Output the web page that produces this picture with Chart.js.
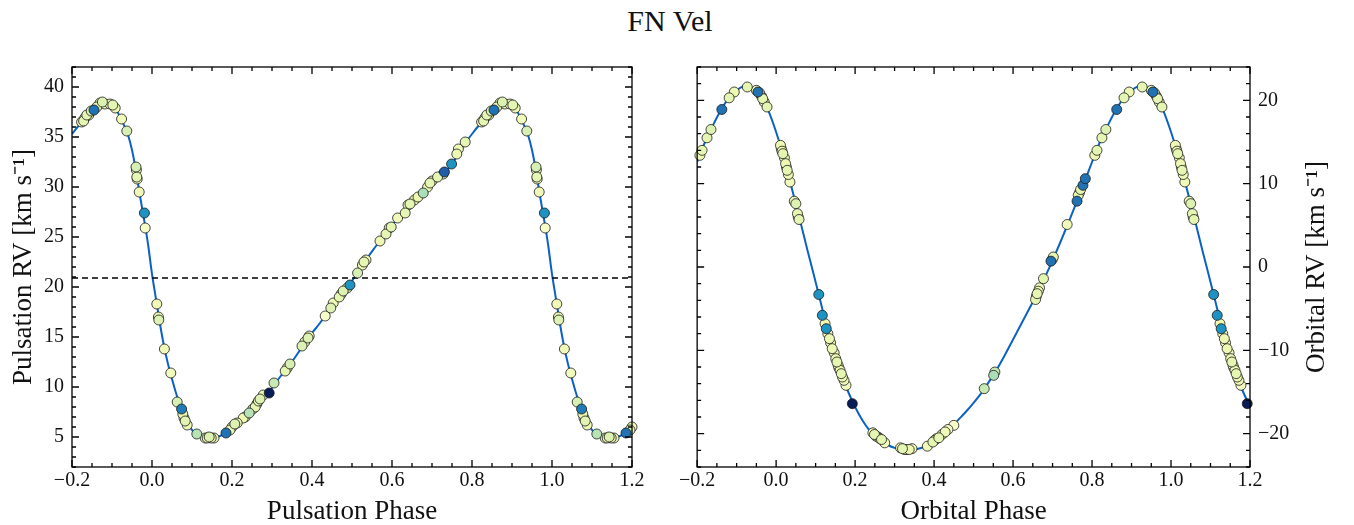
<!DOCTYPE html>
<html>
<head>
<meta charset="utf-8">
<script src="https://cdn.jsdelivr.net/npm/chart.js@4.4.1/dist/chart.umd.min.js"></script>
<style>
  body { margin: 0; background: #fff; }
  #wrap { position: relative; width: 1354px; height: 525px; }
  #title { position: absolute; top: 5px; left: 0; width: 1340px; text-align: center;
           font: 30px/32px "Liberation Serif", serif; color: #111; }
  .box { position: absolute; top: 0; width: 677px; height: 525px; }
</style>
</head>
<body>
<div id="wrap">
  <div id="title">FN Vel</div>
  <div class="box" style="left:0"><canvas id="pulsChart"></canvas></div>
  <div class="box" style="left:677px"><canvas id="orbChart"></canvas></div>
</div>
<script>
// axis ticks
const phaseTicks = [-0.2, 0.0, 0.2, 0.4, 0.6, 0.8, 1.0, 1.2];
const pulsRvTicks = [5, 10, 15, 20, 25, 30, 35, 40];
const orbRvTicks = [-20, -10, 0, 10, 20];
const systemicRv = 20.9;

// pulsation model curve (one cycle)
const pulsModelPhase = [0.00, 0.01, 0.02, 0.03, 0.04, 0.05, 0.06, 0.07, 0.08, 0.09, 0.10, 0.115, 0.13, 0.15, 0.17, 0.185,
  0.20, 0.22, 0.24, 0.26, 0.28, 0.30, 0.32, 0.34, 0.36, 0.38, 0.40, 0.42, 0.44, 0.46, 0.48, 0.50, 0.52, 0.54, 0.56, 0.58,
  0.60, 0.62, 0.64, 0.66, 0.68, 0.70, 0.72, 0.74, 0.76, 0.78, 0.80, 0.82, 0.84, 0.86, 0.88,
  0.90, 0.915, 0.925, 0.94, 0.95, 0.96, 0.97, 0.98, 0.99];
const pulsModelRv = [21.3, 18.8, 16.3, 14.1, 12.3, 10.8, 9.4, 8.2, 7.1, 6.3, 5.7, 5.2, 4.95, 4.9, 5.1, 5.4,
  5.9, 6.6, 7.3, 8.1, 8.9, 9.9, 11.0, 12.0, 13.1, 14.3, 15.4, 16.4, 17.5, 18.6, 19.6, 20.6, 21.8, 23.0, 24.1, 25.2,
  26.2, 27.1, 28.0, 28.8, 29.5, 30.2, 31.0, 31.8, 32.9, 34.2, 35.3, 36.3, 37.2, 37.9, 38.35,
  38.2, 37.4, 36.6, 35.2, 33.7, 31.6, 29.1, 26.8, 24.3];

// pulsation measurements
const pulsPhase = [0.012, 0.016, 0.017, 0.031, 0.047, 0.063, 0.074, 0.077, 0.080, 0.083, 0.088, 0.112, 0.133, 0.138,
  0.143, 0.148, 0.155, 0.185, 0.195, 0.200, 0.207, 0.213, 0.228, 0.233, 0.243, 0.252, 0.258, 0.262, 0.266, 0.270,
  0.278, 0.293, 0.305, 0.333, 0.338, 0.345, 0.375, 0.382, 0.390, 0.393, 0.433, 0.447, 0.453, 0.468, 0.473, 0.478,
  0.488, 0.495, 0.514, 0.526, 0.530, 0.535, 0.570, 0.585, 0.593, 0.598, 0.614, 0.633, 0.640, 0.645, 0.656, 0.665,
  0.678, 0.689, 0.695, 0.700, 0.714, 0.728, 0.731, 0.749, 0.762, 0.766, 0.783, 0.824, 0.829, 0.832, 0.837, 0.842,
  0.848, 0.855, 0.862, 0.870, 0.876, 0.882, 0.895, 0.902, 0.908, 0.924, 0.937, 0.960, 0.961, 0.962, 0.963, 0.968,
  0.981, 0.983];
const pulsRv = [18.3, 17.0, 16.7, 13.8, 11.4, 8.5, 7.8, 7.3, 6.9, 6.6, 6.2, 5.3, 4.9, 4.9,
  5.0, 4.9, 4.9, 5.4, 5.7, 6.0, 6.3, 6.4, 6.9, 7.0, 7.4, 7.8, 8.0, 8.3, 8.6, 8.8,
  9.2, 9.4, 10.4, 11.6, 11.9, 12.3, 14.1, 14.5, 14.9, 15.1, 17.1, 17.9, 18.4, 19.0, 19.3, 19.6,
  19.9, 20.2, 21.4, 22.2, 22.5, 22.7, 24.6, 25.3, 25.9, 26.0, 26.9, 27.4, 28.2, 28.3, 28.7, 29.0,
  29.4, 30.0, 30.4, 30.6, 31.0, 31.3, 31.5, 32.3, 33.3, 33.8, 34.5, 36.5, 36.6, 36.9, 37.2, 37.2,
  37.6, 37.7, 38.0, 38.4, 38.5, 38.3, 38.3, 38.2, 37.9, 36.8, 35.6, 32.0, 31.7, 31.0, 30.8, 29.5,
  27.4, 25.9];
const pulsEpoch = [0.10, 0.14, 0.18, 0.10, 0.08, 0.20, 0.68, 0.14, 0.12, 0.16, 0.12, 0.28, 0.12, 0.16,
  0.18, 0.12, 0.10, 0.70, 0.14, 0.12, 0.18, 0.15, 0.12, 0.10, 0.28, 0.12, 0.15, 0.12, 0.15, 0.18,
  0.12, 1.00, 0.25, 0.15, 0.12, 0.20, 0.18, 0.12, 0.18, 0.12, 0.05, 0.18, 0.12, 0.15, 0.12, 0.18,
  0.15, 0.62, 0.20, 0.12, 0.15, 0.12, 0.12, 0.15, 0.12, 0.15, 0.10, 0.15, 0.12, 0.15, 0.12, 0.12,
  0.30, 0.12, 0.15, 0.12, 0.15, 0.12, 0.75, 0.62, 0.12, 0.10, 0.15, 0.12, 0.15, 0.12, 0.15, 0.12,
  0.18, 0.70, 0.15, 0.12, 0.18, 0.12, 0.12, 0.15, 0.12, 0.10, 0.20, 0.20, 0.15, 0.15, 0.12, 0.10,
  0.62, 0.05];

// orbital model curve (one cycle)
const orbModelPhase = [0.00, 0.02, 0.04, 0.06, 0.08, 0.10, 0.12, 0.14, 0.16, 0.18, 0.20, 0.22, 0.24, 0.26, 0.28,
  0.30, 0.32, 0.34, 0.36, 0.38, 0.40, 0.42, 0.44, 0.46, 0.48, 0.50, 0.52, 0.54, 0.56, 0.58, 0.60, 0.62, 0.64,
  0.66, 0.68, 0.70, 0.72, 0.74, 0.76, 0.78, 0.80, 0.82, 0.84, 0.86, 0.88, 0.90, 0.92, 0.94, 0.96, 0.98];
const orbModelRv = [16.2, 13.1, 9.4, 5.7, 1.9, -1.8, -5.6, -9.2, -12.2, -14.7, -16.8, -18.5, -19.8, -20.7, -21.3,
  -21.7, -21.9, -21.9, -21.8, -21.5, -20.9, -20.2, -19.4, -18.4, -17.4, -16.3, -15.1, -13.7, -12.2, -10.5, -8.7, -6.9, -5.1,
  -3.3, -1.3, 0.8, 3.0, 5.3, 7.7, 10.1, 12.6, 15.0, 17.0, 18.8, 20.3, 21.2, 21.7, 21.5, 20.5, 18.8];

// orbital measurements
const orbPhase = [0.807, 0.8125, 0.825, 0.835, 0.8625, 0.881, 0.894, 0.927, 0.950, 0.954, 0.958, 0.963, 0.966,
  0.970, 0.977, 0.011, 0.013, 0.015, 0.017, 0.021, 0.024, 0.026, 0.028, 0.031, 0.035, 0.046, 0.050, 0.054, 0.056,
  0.058, 0.108, 0.117, 0.124, 0.127, 0.131, 0.135, 0.138, 0.142, 0.147, 0.151, 0.154, 0.157, 0.159, 0.162, 0.165,
  0.168, 0.172, 0.177, 0.193, 0.245, 0.249, 0.253, 0.258, 0.263, 0.267, 0.275, 0.315, 0.320, 0.325, 0.330, 0.337,
  0.344, 0.383, 0.397, 0.401, 0.406, 0.412, 0.420, 0.428, 0.435, 0.450, 0.527, 0.551, 0.554, 0.657, 0.659, 0.661,
  0.664, 0.667, 0.677, 0.696, 0.699, 0.702, 0.737, 0.762, 0.765, 0.768, 0.771, 0.777, 0.783];
const orbRv = [13.4, 14.0, 15.5, 16.5, 18.9, 20.3, 21.0, 21.6, 21.2, 21.0, 20.9, 20.5, 20.2,
  19.8, 19.2, 14.6, 14.2, 13.9, 13.6, 13.1, 12.4, 12.0, 11.6, 11.1, 10.2, 7.9, 7.6, 6.4, 6.0,
  5.7, -3.3, -5.8, -6.8, -7.4, -8.0, -8.6, -9.1, -9.8, -10.3, -11.0, -11.4, -11.8, -12.1, -12.4, -12.8,
  -13.2, -13.6, -14.2, -16.4, -19.9, -20.1, -20.3, -20.4, -20.6, -20.7, -21.1, -21.7, -21.8, -21.9, -21.9, -21.9,
  -21.8, -21.5, -21.0, -20.8, -20.6, -20.5, -20.1, -19.8, -19.5, -19.0, -14.6, -13.0, -12.6, -3.9, -3.5, -3.2,
  -2.9, -2.5, -1.4, 0.7, 0.9, 1.2, 5.1, 7.9, 8.6, 8.9, 9.3, 9.8, 10.6];
const orbEpoch = [0.12, 0.15, 0.15, 0.18, 0.70, 0.15, 0.12, 0.15, 0.12, 0.70, 0.15, 0.12, 0.15,
  0.12, 0.15, 0.12, 0.10, 0.12, 0.15, 0.12, 0.12, 0.10, 0.15, 0.12, 0.10, 0.15, 0.18, 0.15, 0.12,
  0.15, 0.62, 0.62, 0.12, 0.62, 0.10, 0.12, 0.10, 0.12, 0.10, 0.12, 0.15, 0.12, 0.10, 0.12, 0.15,
  0.12, 0.10, 0.08, 1.00, 0.12, 0.15, 0.12, 0.10, 0.12, 0.15, 0.08, 0.12, 0.15, 0.12, 0.10, 0.12,
  0.08, 0.10, 0.15, 0.12, 0.10, 0.15, 0.08, 0.10, 0.08, 0.05, 0.25, 0.30, 0.25, 0.15, 0.12, 0.15,
  0.12, 0.10, 0.15, 0.70, 0.12, 0.15, 0.10, 0.70, 0.15, 0.12, 0.15, 0.70, 0.70];

const FONT = '"Liberation Serif", "Times New Roman", serif';
const INK = "#111";
const ylgnbu = ["#ffffd9", "#edf8b1", "#c7e9b4", "#7fcdbb", "#41b6c4", "#1d91c0", "#225ea8", "#253494", "#081d58"];

function cmap(t) {
  const s = Math.max(0, Math.min(1, t)) * (ylgnbu.length - 1);
  const i = Math.min(Math.floor(s), ylgnbu.length - 2);
  const f = s - i;
  const a = ylgnbu[i], b = ylgnbu[i + 1];
  const ch = (h, k) => parseInt(h.substr(1 + 2 * k, 2), 16);
  const rgb = [0, 1, 2].map((k) => Math.round(ch(a, k) + (ch(b, k) - ch(a, k)) * f));
  return `rgb(${rgb.join(",")})`;
}

// repeat one cycle so it covers phase -0.2 .. 1.2
function unfold(phases, values, epochs) {
  const out = [];
  phases.forEach((p, i) => {
    [-1, 0, 1].forEach((k) => {
      const ph = p + k;
      if (ph >= -0.2 - 1e-6 && ph <= 1.2 + 1e-6) {
        out.push({ x: ph, y: values[i], c: epochs ? epochs[i] : 0 });
      }
    });
  });
  return out;
}

const fmtPhase = (v) => (v < -1e-9 ? "\u2212" : "") + Math.abs(v).toFixed(1);
const fmtInt = (v) => (v < 0 ? "\u2212" : "") + Math.abs(v);

// inward ticks on all four sides plus the frame
const frameTicks = {
  id: "frameTicks",
  afterDatasetsDraw(chart, args, opts) {
    const { ctx, chartArea: a, scales } = chart;
    const xs = scales.x, ys = scales.y;
    ctx.save();
    ctx.strokeStyle = "#000";
    ctx.lineWidth = 1.3;
    ctx.beginPath();
    const walk = (min, max, step, major, fn) => {
      const n = Math.round((max - min) / step);
      for (let i = 0; i <= n; i++) {
        const v = min + i * step;
        const r = v / major;
        fn(v, Math.abs(r - Math.round(r)) < 1e-6 ? 7 : 4);
      }
    };
    walk(xs.min, xs.max, opts.xMinor, opts.xMajor, (v, len) => {
      const px = xs.getPixelForValue(v);
      ctx.moveTo(px, a.bottom); ctx.lineTo(px, a.bottom - len);
      ctx.moveTo(px, a.top); ctx.lineTo(px, a.top + len);
    });
    walk(ys.min, ys.max, opts.yMinor, opts.yMajor, (v, len) => {
      const py = ys.getPixelForValue(v);
      ctx.moveTo(a.left, py); ctx.lineTo(a.left + len, py);
      ctx.moveTo(a.right, py); ctx.lineTo(a.right - len, py);
    });
    ctx.stroke();
    ctx.strokeRect(a.left, a.top, a.right - a.left, a.bottom - a.top);
    if (opts.rightTitle) {
      ctx.fillStyle = INK;
      ctx.font = `27px ${FONT}`;
      ctx.textAlign = "center";
      ctx.textBaseline = "middle";
      ctx.translate(opts.rightTitleX, (a.top + a.bottom) / 2);
      ctx.rotate(-Math.PI / 2);
      ctx.fillText(opts.rightTitle, 0, 0);
    }
    ctx.restore();
  },
};

function makePanel(id, cfg) {
  const points = unfold(cfg.phase, cfg.rv, cfg.epoch).sort((p, q) => p.c - q.c);
  const curve = unfold(cfg.modelPhase, cfg.modelRv).sort((p, q) => p.x - q.x);
  const datasets = [
    {
      data: points,
      pointRadius: 5,
      pointBorderWidth: 0.8,
      pointBorderColor: "#1a1a1a",
      pointBackgroundColor: points.map((p) => cmap(p.c)),
      showLine: false,
      clip: false,
      order: 0,
    },
    {
      type: "line",
      data: curve,
      borderColor: "#0b62c4",
      borderWidth: 2,
      pointRadius: 0,
      cubicInterpolationMode: "monotone",
      fill: false,
      order: 2,
    },
  ];
  if (cfg.hline !== undefined) {
    datasets.push({
      type: "line",
      data: [{ x: -0.2, y: cfg.hline }, { x: 1.2, y: cfg.hline }],
      borderColor: "#000",
      borderWidth: 1.5,
      borderDash: [6, 4],
      pointRadius: 0,
      fill: false,
      order: 1,
    });
  }

  new Chart(document.getElementById(id).getContext("2d"), {
    type: "scatter",
    data: { datasets },
    options: {
      responsive: true,
      maintainAspectRatio: false,
      animation: false,
      events: [],
      layout: { padding: cfg.padding },
      plugins: {
        legend: { display: false },
        tooltip: { enabled: false },
        frameTicks: {
          xMinor: 0.05, xMajor: 0.2, yMinor: cfg.yMinor, yMajor: cfg.yMajor,
          rightTitle: cfg.rightTitle, rightTitleX: cfg.rightTitleX,
        },
      },
      scales: {
        x: {
          type: "linear",
          min: -0.2,
          max: 1.2,
          grid: { display: false, drawTicks: false },
          border: { display: false },
          afterBuildTicks: (s) => { s.ticks = phaseTicks.map((v) => ({ value: v })); },
          afterFit: (s) => { s.height = 58; },
          ticks: {
            autoSkip: false, maxRotation: 0, padding: 2, color: INK,
            font: { family: FONT, size: 20 },
            callback: (v) => fmtPhase(v),
          },
          title: {
            display: true, text: cfg.xTitle, color: INK,
            font: { family: FONT, size: 27, lineHeight: 1 },
            padding: { top: 0, bottom: 0 },
          },
        },
        y: {
          type: "linear",
          position: cfg.yPos,
          min: cfg.yMin,
          max: cfg.yMax,
          grid: { display: false, drawTicks: false },
          border: { display: false },
          afterBuildTicks: (s) => { s.ticks = cfg.yTicks.map((v) => ({ value: v })); },
          afterFit: (s) => { s.width = cfg.yWidth; },
          ticks: {
            autoSkip: false, padding: 8, color: INK,
            font: { family: FONT, size: 20 },
            callback: (v) => fmtInt(v),
          },
          title: {
            display: !!cfg.yTitle, text: cfg.yTitle || "", color: INK,
            font: { family: FONT, size: 27, lineHeight: 1 },
            padding: { top: 10, bottom: 0 },
          },
        },
      },
    },
    plugins: [frameTicks],
  });
}

makePanel("pulsChart", {
  phase: pulsPhase, rv: pulsRv, epoch: pulsEpoch,
  modelPhase: pulsModelPhase, modelRv: pulsModelRv,
  hline: systemicRv,
  xTitle: "Pulsation Phase",
  yTitle: "Pulsation RV [km s\u207B\u00B9]",
  yPos: "left", yMin: 2, yMax: 42, yTicks: pulsRvTicks, yMinor: 1, yMajor: 5,
  yWidth: 72,
  padding: { top: 67, right: 45, left: 0, bottom: 0 },
});

makePanel("orbChart", {
  phase: orbPhase, rv: orbRv, epoch: orbEpoch,
  modelPhase: orbModelPhase, modelRv: orbModelRv,
  xTitle: "Orbital Phase",
  yPos: "right", yMin: -24, yMax: 24, yTicks: orbRvTicks, yMinor: 2, yMajor: 10,
  yWidth: 104,
  rightTitle: "Orbital RV [km s\u207B\u00B9]", rightTitleX: 640,
  padding: { top: 67, right: 0, left: 13, bottom: 0 },
});
</script>
</body>
</html>
